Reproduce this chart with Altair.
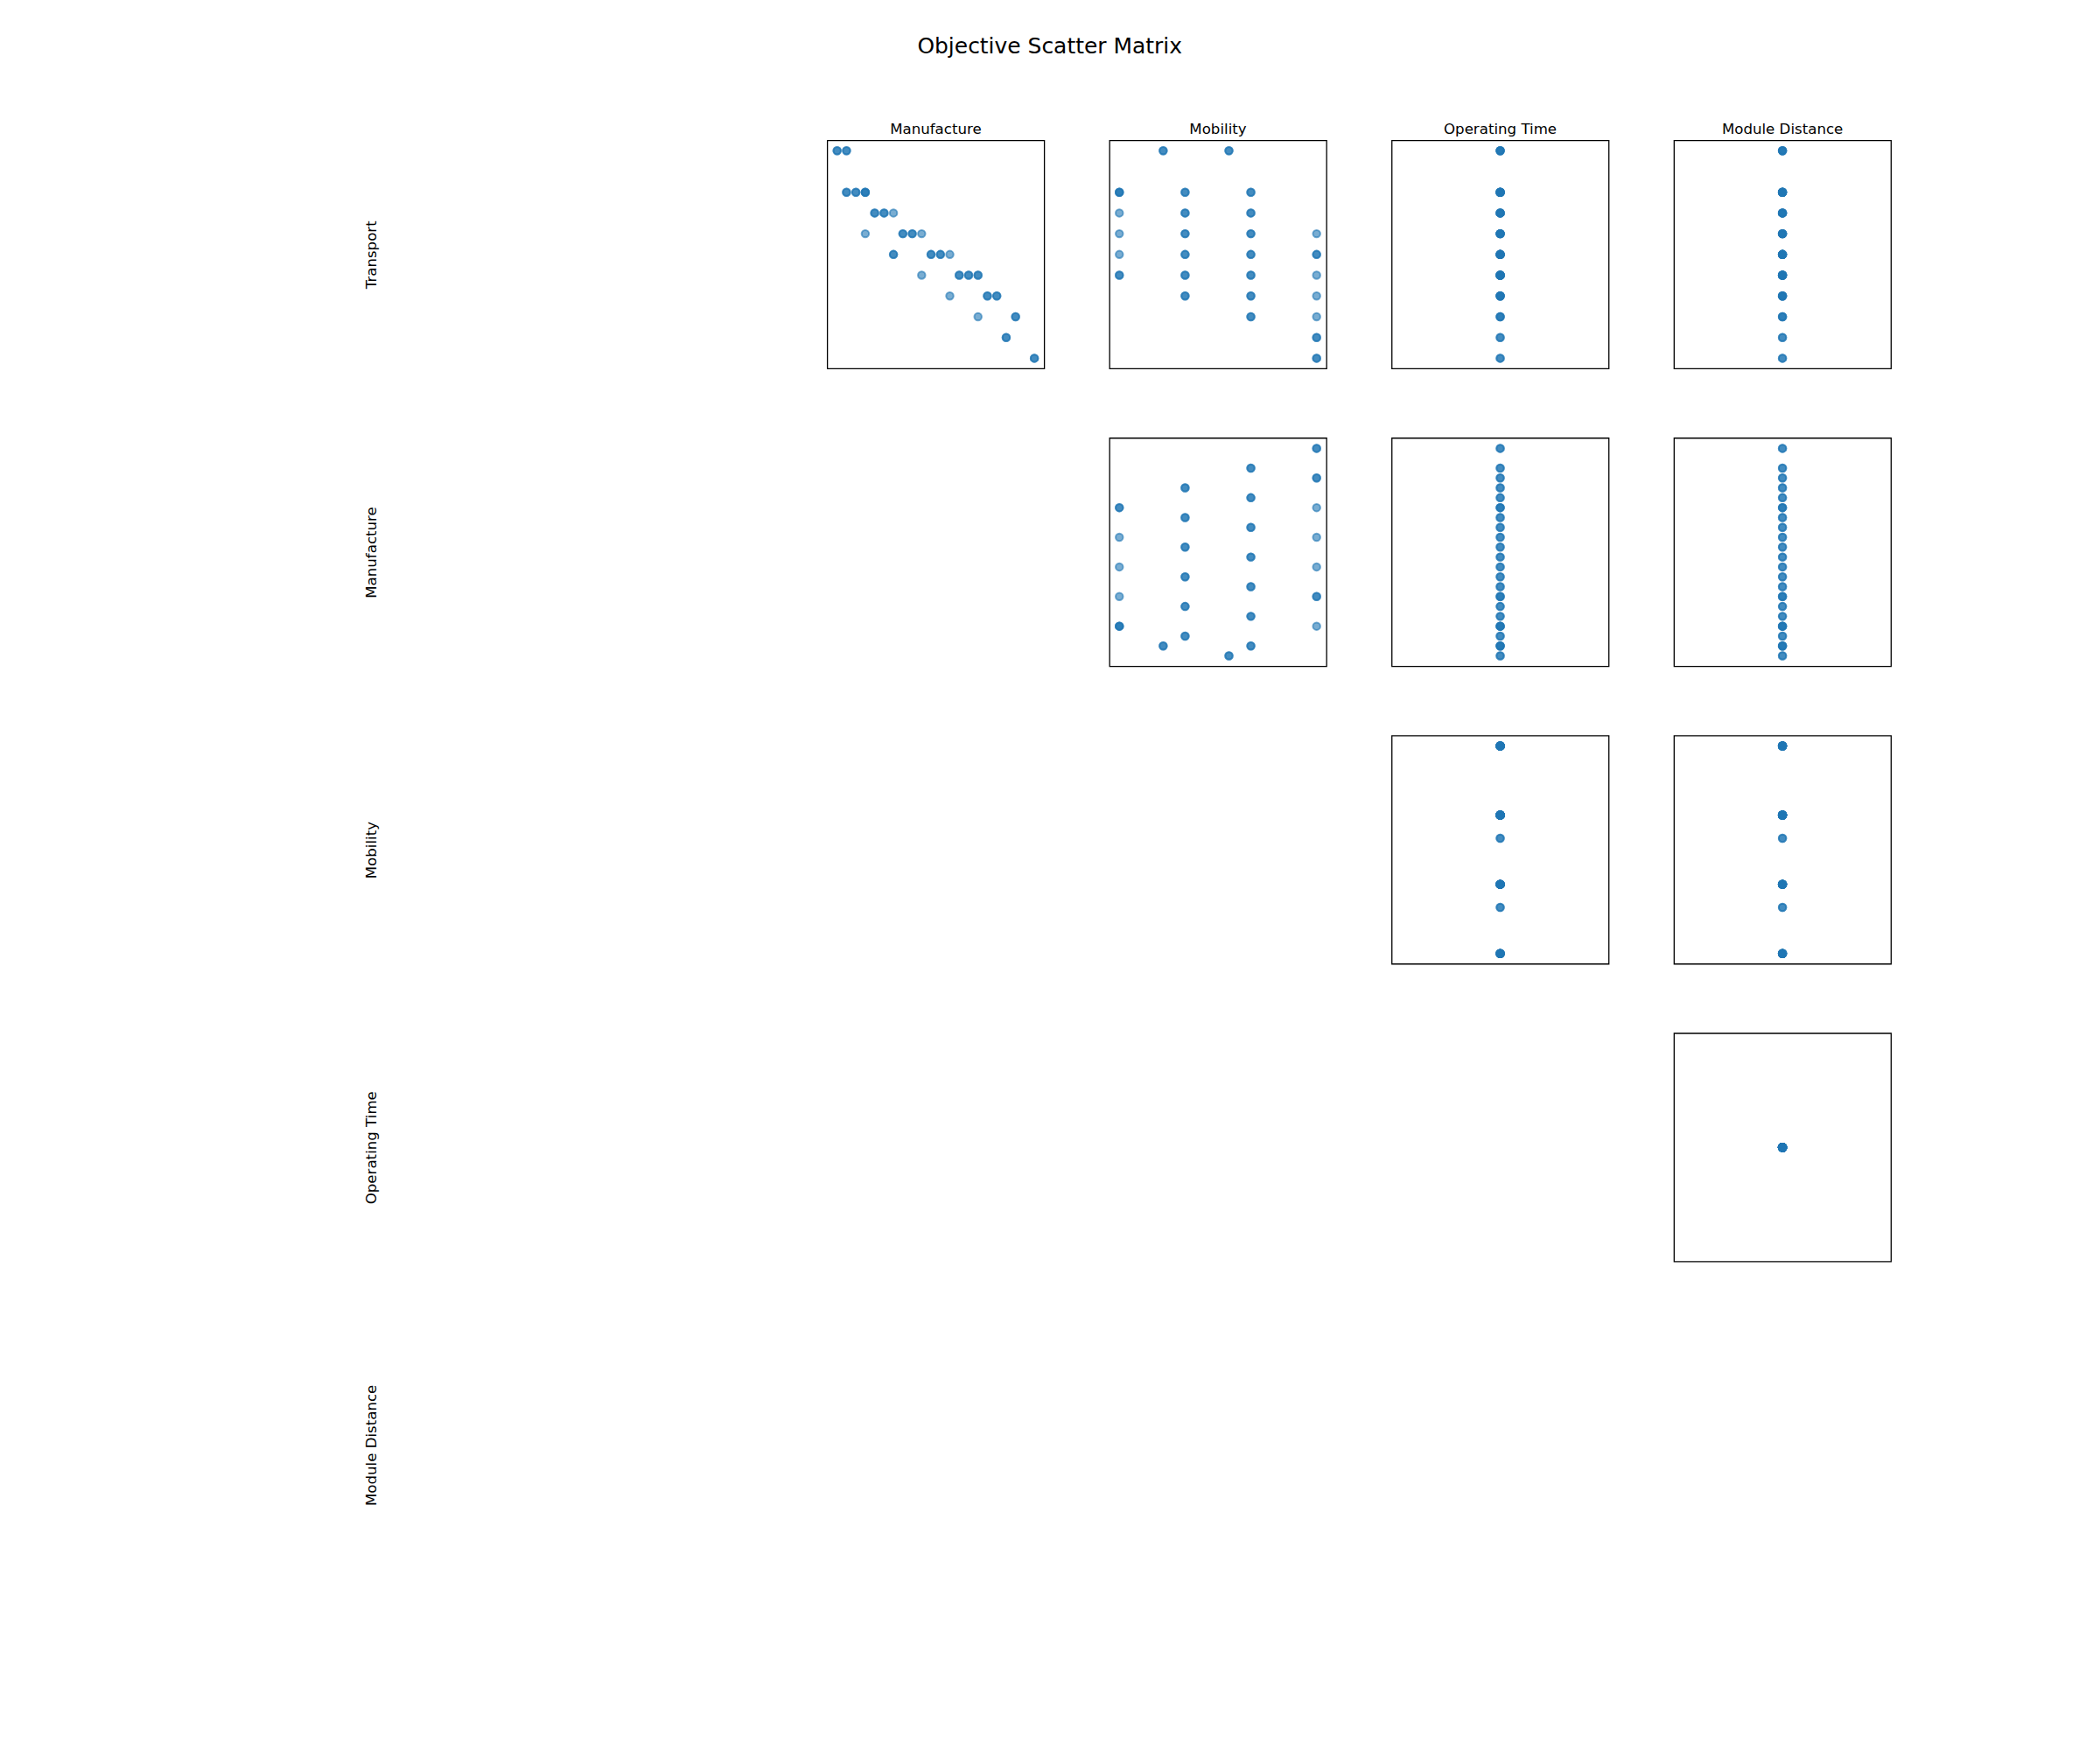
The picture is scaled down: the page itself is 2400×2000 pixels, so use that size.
import altair as alt
import pandas as pd

# Objectives (display names) and their data keys
names = ["Transport", "Manufacture", "Mobility", "Operating Time", "Module Distance"]
keys = ["transport", "manufacture", "mobility", "operating_time", "module_distance"]

# Distinct solutions, with how many times each one occurs
transport = [10, 10, 8, 8, 8, 7, 7, 7, 6, 6, 6, 6, 5, 5, 5, 5, 4, 4, 4, 4, 3, 3, 3, 2, 2, 1, 0]
manufacture = [0, 1, 1, 2, 3, 4, 5, 6, 3, 7, 8, 9, 6, 10, 11, 12, 9, 13, 14, 15, 12, 16, 17, 15, 19, 18, 21]
mobility = [5, 2, 6, 3, 0, 6, 3, 0, 9, 6, 3, 0, 9, 6, 3, 0, 9, 6, 3, 0, 9, 6, 3, 9, 6, 9, 9]
operating_time = [1.0, 1.0, 1.0, 1.0, 1.0, 1.0, 1.0, 1.0, 1.0, 1.0, 1.0, 1.0, 1.0, 1.0,
                  1.0, 1.0, 1.0, 1.0, 1.0, 1.0, 1.0, 1.0, 1.0, 1.0, 1.0, 1.0, 1.0]
module_distance = [1.0, 1.0, 1.0, 1.0, 1.0, 1.0, 1.0, 1.0, 1.0, 1.0, 1.0, 1.0, 1.0, 1.0,
                   1.0, 1.0, 1.0, 1.0, 1.0, 1.0, 1.0, 1.0, 1.0, 1.0, 1.0, 1.0, 1.0]
copies = [2, 2, 2, 2, 3, 2, 2, 1, 1, 2, 2, 1, 2, 2, 2, 1, 1, 2, 2, 2, 1, 2, 2, 1, 2, 2, 2]

base = pd.DataFrame({
    "transport": transport,
    "manufacture": manufacture,
    "mobility": mobility,
    "operating_time": operating_time,
    "module_distance": module_distance,
})
df = base.loc[base.index.repeat(copies)].reset_index(drop=True)


def domain_of(col):
    lo, hi = float(df[col].min()), float(df[col].max())
    if lo == hi:
        return [lo - 1.0, hi + 1.0]
    pad = 0.05 * (hi - lo)
    return [lo - pad, hi + pad]


domains = {k: domain_of(k) for k in keys}

FONT = "DejaVu Sans"
LABEL_SIZE = 16.67
PANEL_W, PANEL_H = 248.4, 261.3
COLOR = "#1f77b4"

cells = []
for r in range(5):
    for c in range(1, 5):
        xk, yk = keys[c], keys[r]
        if c == 1:
            y_axis = alt.Axis(title=names[r], labels=False, ticks=False, domain=False,
                              grid=False, titlePadding=513, titleFont=FONT,
                              titleFontSize=LABEL_SIZE, titleFontWeight="normal",
                              titleColor="black")
        else:
            y_axis = None
        enc = dict(
            x=alt.X(f"{xk}:Q", scale=alt.Scale(domain=domains[xk], nice=False, zero=False), axis=None),
            y=alt.Y(f"{yk}:Q", scale=alt.Scale(domain=domains[yk], nice=False, zero=False), axis=y_axis),
        )
        if c > r:
            ch = alt.Chart(df).mark_circle(
                size=72, color=COLOR, fillOpacity=0.6, stroke=COLOR,
                strokeOpacity=0.6, strokeWidth=2.0, clip=False
            ).encode(**enc).properties(
                width=PANEL_W, height=PANEL_H,
                view=alt.ViewBackground(stroke="black", strokeWidth=1.3, fill="white"),
            )
            if r == 0:
                ch = ch.properties(title=alt.TitleParams(
                    text=names[c], font=FONT, fontSize=LABEL_SIZE, fontWeight="normal",
                    color="black", anchor="middle", baseline="alphabetic", offset=8.3,
                    dy=17.7))
        else:
            ch = alt.Chart(df).mark_point(opacity=0).encode(**enc).properties(
                width=PANEL_W, height=PANEL_H,
                view=alt.ViewBackground(stroke=None),
            )
        cells.append(ch)

chart = alt.concat(
    *cells, columns=4, spacing={"row": 78.7, "column": 74.1}, bounds="flush"
).properties(
    title=alt.TitleParams(
        text="Objective Scatter Matrix", font=FONT, fontSize=25, fontWeight="normal",
        color="black", anchor="middle", frame="group", dx=254.7, baseline="top", offset=74),
    padding={"left": 416, "top": 39, "right": 238, "bottom": 218},
    background="white",
).configure_view(stroke=None)

chart.save("out.html", embed_options={"renderer": "svg", "actions": False})
